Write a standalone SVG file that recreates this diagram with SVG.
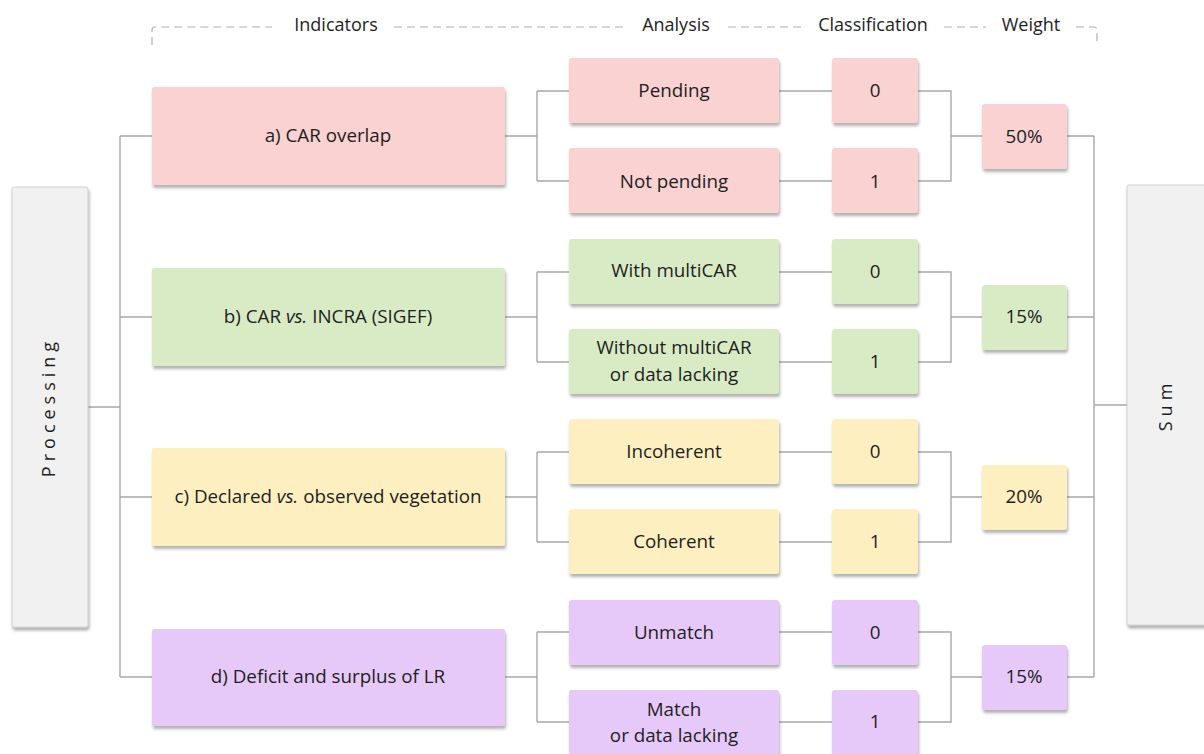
<svg xmlns="http://www.w3.org/2000/svg" width="1204" height="754" viewBox="0 0 1204 754">
<defs>
<filter id="sh" x="-10%" y="-10%" width="125%" height="135%">
<feDropShadow dx="1" dy="3" stdDeviation="1.5" flood-color="#555" flood-opacity="0.45"/>
</filter>
<style>
text{font-family:"Open Sans","Liberation Sans",sans-serif;font-size:18.8px;fill:#1e1e1e;text-anchor:middle}
.hd{font-size:18px}
.box{filter:url(#sh)}
.pk{fill:#f9d2d1}
.gr{fill:#d9ebc5}
.ye{fill:#fdefc0}
.pu{fill:#e6c9f9}
.gy{fill:#f1f1f1;stroke:#d2d2d2;stroke-width:1}
.cn path{fill:none;stroke:#a8a8a8;stroke-width:1.4}
.dash{fill:none;stroke:#b0b0b0;stroke-width:1.2;stroke-dasharray:8 5}
.it{font-style:italic}
.sp{letter-spacing:5px;font-size:18px}
</style>
</defs>
<rect width="1204" height="754" fill="#fff"/>

<g id="header">
<path class="dash" d="M152 45 V30 Q152 27 155 27 H272"/>
<path class="dash" d="M394 27 H628"/>
<path class="dash" d="M728 27 H802"/>
<path class="dash" d="M944 27 H986"/>
<path class="dash" d="M1076 27 H1094 Q1097 27 1097 30 V45"/>
<text class="hd" x="336" y="31">Indicators</text>
<text class="hd" x="676" y="31">Analysis</text>
<text class="hd" x="873" y="31">Classification</text>
<text class="hd" x="1031" y="31">Weight</text>
</g>

<g class="cn" id="connectors">
<path d="M88 407 H120 M120 136 V677 M120 136 H152 M120 317 H152 M120 497 H152 M120 677 H152"/>
<path d="M505 136 H537 M537 91 V181 M537 91 H569 M537 181 H569 M779 91 H832 M779 181 H832 M918 91 H951 V181 H918 M951 136 H982 M1067 136 H1094"/>
<path d="M505 317 H537 M537 272 V362 M537 272 H569 M537 362 H569 M779 272 H832 M779 362 H832 M918 272 H951 V362 H918 M951 317 H982 M1067 317 H1094"/>
<path d="M505 497 H537 M537 452 V542 M537 452 H569 M537 542 H569 M779 452 H832 M779 542 H832 M918 452 H951 V542 H918 M951 497 H982 M1067 497 H1094"/>
<path d="M505 677 H537 M537 632 V722 M537 632 H569 M537 722 H569 M779 632 H832 M779 722 H832 M918 632 H951 V722 H918 M951 677 H982 M1067 677 H1094"/>
<path d="M1094 136 V677 M1094 405 H1127"/>
</g>

<g id="processing">
<rect class="gy box" x="12" y="187" width="76" height="440" rx="2"/>
<text class="sp" transform="translate(55 407) rotate(-90)" x="0" y="0">Processing</text>
</g>
<g id="sum">
<rect class="gy box" x="1127" y="185" width="90" height="440" rx="2"/>
<text class="sp" transform="translate(1172 405) rotate(-90)" x="0" y="0">Sum</text>
</g>

<g id="ind-a"><rect class="pk box" x="152" y="87" width="353" height="98" rx="2"/><text x="328" y="142">a) CAR overlap</text></g>
<g id="an-a0"><rect class="pk box" x="569" y="58" width="210" height="65" rx="3"/><text x="674" y="97">Pending</text></g>
<g id="an-a1"><rect class="pk box" x="569" y="148" width="210" height="65" rx="3"/><text x="674" y="188">Not pending</text></g>
<g id="cl-a0"><rect class="pk box" x="832" y="58" width="86" height="65" rx="3"/><text x="875" y="97">0</text></g>
<g id="cl-a1"><rect class="pk box" x="832" y="148" width="86" height="65" rx="3"/><text x="875" y="188">1</text></g>
<g id="w-a"><rect class="pk box" x="982" y="104" width="85" height="65" rx="3"/><text x="1024" y="143">50%</text></g>

<g id="ind-b"><rect class="gr box" x="152" y="268" width="353" height="98" rx="2"/><text x="328" y="323">b) CAR <tspan class="it">vs.</tspan> INCRA (SIGEF)</text></g>
<g id="an-b0"><rect class="gr box" x="569" y="239" width="210" height="65" rx="3"/><text x="674" y="277">With multiCAR</text></g>
<g id="an-b1"><rect class="gr box" x="569" y="329" width="210" height="65" rx="3"/><text x="674" y="354">Without multiCAR</text><text x="674" y="381">or data lacking</text></g>
<g id="cl-b0"><rect class="gr box" x="832" y="239" width="86" height="65" rx="3"/><text x="875" y="278">0</text></g>
<g id="cl-b1"><rect class="gr box" x="832" y="329" width="86" height="65" rx="3"/><text x="875" y="368">1</text></g>
<g id="w-b"><rect class="gr box" x="982" y="285" width="85" height="65" rx="3"/><text x="1024" y="323">15%</text></g>

<g id="ind-c"><rect class="ye box" x="152" y="448" width="353" height="98" rx="2"/><text x="328" y="503">c) Declared <tspan class="it">vs.</tspan> observed vegetation</text></g>
<g id="an-c0"><rect class="ye box" x="569" y="419" width="210" height="65" rx="3"/><text x="674" y="458">Incoherent</text></g>
<g id="an-c1"><rect class="ye box" x="569" y="509" width="210" height="65" rx="3"/><text x="674" y="548">Coherent</text></g>
<g id="cl-c0"><rect class="ye box" x="832" y="419" width="86" height="65" rx="3"/><text x="875" y="458">0</text></g>
<g id="cl-c1"><rect class="ye box" x="832" y="509" width="86" height="65" rx="3"/><text x="875" y="548">1</text></g>
<g id="w-c"><rect class="ye box" x="982" y="465" width="85" height="65" rx="3"/><text x="1024" y="503">20%</text></g>

<g id="ind-d"><rect class="pu box" x="152" y="629" width="353" height="97" rx="2"/><text x="328" y="683">d) Deficit and surplus of LR</text></g>
<g id="an-d0"><rect class="pu box" x="569" y="600" width="210" height="65" rx="3"/><text x="674" y="639">Unmatch</text></g>
<g id="an-d1"><rect class="pu box" x="569" y="690" width="210" height="65" rx="3"/><text x="674" y="716">Match</text><text x="674" y="742">or data lacking</text></g>
<g id="cl-d0"><rect class="pu box" x="832" y="600" width="86" height="65" rx="3"/><text x="875" y="639">0</text></g>
<g id="cl-d1"><rect class="pu box" x="832" y="690" width="86" height="65" rx="3"/><text x="875" y="728">1</text></g>
<g id="w-d"><rect class="pu box" x="982" y="645" width="85" height="65" rx="3"/><text x="1024" y="683">15%</text></g>
</svg>
